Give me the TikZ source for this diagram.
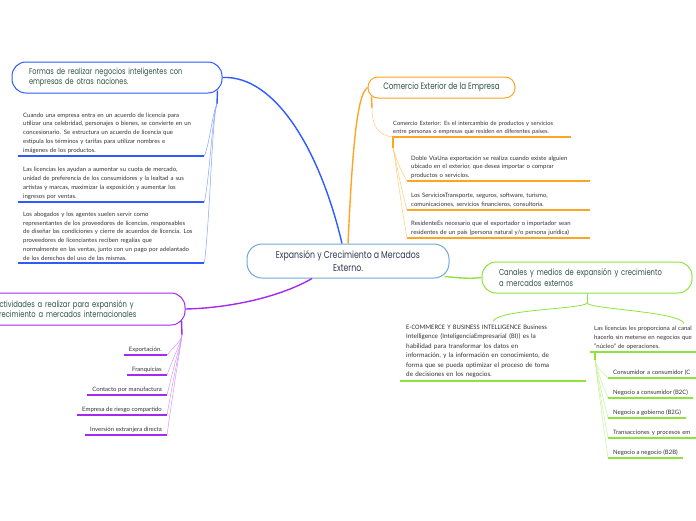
\documentclass[tikz,border=0pt]{standalone}
\usepackage{fontspec}
\setmainfont{Lato}
\newfontfamily\ttlfont[FakeStretch=0.78]{Poppins}
\newfontfamily\calfont{Carlito}
\usetikzlibrary{positioning}

\definecolor{ramaazul}{HTML}{2D5BFF}
\definecolor{ramitaazul}{HTML}{86A2FF}
\definecolor{ramanaranja}{HTML}{FFA526}
\definecolor{ramitanaranja}{HTML}{FFCB7A}
\definecolor{ramaverde}{HTML}{8EE33C}
\definecolor{ramitaverde}{HTML}{C6F199}
\definecolor{ramamorada}{HTML}{A42AF0}
\definecolor{ramitamorada}{HTML}{D49AF7}
\definecolor{bordecentral}{HTML}{6FA8DC}
\definecolor{textotitulo}{HTML}{2F5547}
\definecolor{textocentral}{HTML}{2E3B4E}
\definecolor{textohoja}{HTML}{333333}

\begin{document}
\begin{tikzpicture}[
    x=1pt, y=-1pt,
    centro/.style={
        draw=bordecentral,
        line width=1pt,
        rounded corners=15pt,
        fill=white,
        minimum width=202pt,
        minimum height=34pt,
        align=center,
        text=textocentral,
        font=\ttlfont\fontsize{10}{12.5}\selectfont
    },
    tema/.style={
        line width=1pt,
        rounded corners=14pt,
        fill=white,
        minimum height=31pt,
        text=textotitulo,
        font=\ttlfont\fontsize{8.7}{10.5}\selectfont
    },
    hoja/.style={
        text=textohoja,
        inner xsep=4pt,
        inner ysep=2.5pt,
        font=\fontsize{6}{8.8}\selectfont
    },
    rama/.style={
        line width=1.4pt
    },
    subrayado/.style={
        line width=1.3pt
    },
    ramita/.style={
        line width=0.5pt
    }
]
\clip (0,0) rectangle (696,520);

% Central node
\node[centro] (centro) at (348,261) {Expansión y Crecimiento a Mercados\\Externo.};

% Main topics
\node[tema, draw=ramaazul, minimum width=210pt, text width=176pt, align=left, font=\ttlfont\fontsize{8.5}{10.5}\selectfont] (formas) at (117,77.5)
    {Formas de realizar negocios inteligentes con\\empresas de otras naciones.};
\node[tema, draw=ramanaranja, minimum width=147pt, minimum height=21pt, rounded corners=10pt, font=\ttlfont\fontsize{9.2}{10.5}\selectfont] (comercio) at (441.5,87.5)
    {Comercio Exterior de la Empresa};
\node[tema, draw=ramaverde, minimum width=210pt, text width=176pt, align=left] (canales) at (587,277.5)
    {Canales y medios de expansión y crecimiento\\a mercados externos};
\node[tema, draw=ramamorada, minimum width=204pt, minimum height=32pt, text width=176pt, align=left] (activ) at (83,309)
    {Actividades a realizar para expansión y\\crecimiento a mercados internacionales};

% Branches from the centre
\draw[rama, ramaazul] (formas.east) .. controls (275,75) and (320,150) .. ([xshift=-6]centro.north);
\draw[rama, ramanaranja] (centro.north) .. controls (352,160) and (356,95) .. (comercio.west);
\draw[rama, ramaverde] ([shift={(-5,-2)}]centro.south east) .. controls (460,278) and (470,279) .. (canales.west);
\draw[rama, ramamorada] ([xshift=-36]centro.south) .. controls (280,297) and (230,308) .. (activ.east);

% Blue leaves
\node[hoja, anchor=south west, text width=176pt, align=left, inner xsep=5pt] (lic1) at (18,156)
    {Cuando una empresa entra en un acuerdo de licencia para\\utilizar una celebridad, personajes o bienes, se convierte en un\\concesionario. Se estructura un acuerdo de licencia que\\estipula los términos y tarifas para utilizar nombres e\\imágenes de los productos.};
\node[hoja, anchor=south west, text width=176pt, align=left, inner xsep=5pt] (lic2) at (18,202)
    {Las licencias les ayudan a aumentar su cuota de mercado,\\unidad de preferencia de los consumidores y la lealtad a sus\\artistas y marcas, maximizar la exposición y aumentar los\\ingresos por ventas.};
\node[hoja, anchor=south west, text width=176pt, align=left, inner xsep=5pt] (lic3) at (18,263)
    {Los abogados y los agentes suelen servir como\\representantes de los proveedores de licencias, responsables\\de diseñar las condiciones y cierre de acuerdos de licencia. Los\\proveedores de licenciantes reciben regalías que\\normalmente en las ventas, junto con un pago por adelantado\\de los derechos del uso de las mismas.};

\coordinate (nudoazul) at (217,104);
\draw[rama, ramaazul] ([shift={(-5,-3)}]formas.south east) -- (nudoazul);
\draw[ramita, ramitaazul] (nudoazul) .. controls +(-5,10) and +(6,-16) .. (lic1.south east);
\draw[ramita, ramitaazul] (nudoazul) .. controls +(-5,12) and +(6,-30) .. (lic2.south east);
\draw[ramita, ramitaazul] (nudoazul) .. controls +(-5,14) and +(6,-50) .. (lic3.south east);
\draw[subrayado, ramaazul] (lic1.south west) -- (lic1.south east);
\draw[subrayado, ramaazul] (lic2.south west) -- (lic2.south east);
\draw[subrayado, ramaazul] (lic3.south west) -- (lic3.south east);

% Orange leaves
\node[hoja, anchor=south west, text width=177pt, align=left, inner xsep=1pt, font=\fontsize{5.8}{8}\selectfont] (comext) at (392,137)
    {Comercio Exterior: Es el intercambio de productos y servicios\\entre personas o empresas que residen en diferentes países.};
\node[hoja, anchor=south west, text width=175pt, align=left, font=\fontsize{6}{8.5}\selectfont] (doble) at (407,181)
    {Doble VíaUna exportación se realiza cuando existe alguien\\ubicado en el exterior, que desea importar o comprar\\productos o servicios.};
\node[hoja, anchor=south west, text width=175pt, align=left, font=\fontsize{6}{8.5}\selectfont] (serv) at (407,210)
    {Los ServiciosTransporte, seguros, software, turismo,\\comunicaciones, servicios financieros, consultoría.};
\node[hoja, anchor=south west, text width=175pt, align=left, font=\fontsize{6}{8.5}\selectfont] (resid) at (407,238)
    {ResidenteEs necesario que el exportador o importador sean\\residentes de un país (persona natural y/o persona jurídica)};

\coordinate (nudonaranja) at (372,108);
\coordinate (nudonaranja2) at (393,148);
\draw[rama, ramanaranja] ([shift={(4,-2)}]comercio.south west) -- (nudonaranja);
\draw[ramita, ramitanaranja] (nudonaranja) .. controls +(0,18) and +(-14,-2) .. (comext.south west);
\draw[rama, ramanaranja] ([xshift=1]comext.south west) -- (nudonaranja2);
\draw[ramita, ramitanaranja] (nudonaranja2) .. controls +(3,10) and +(-8,-14) .. (doble.south west);
\draw[ramita, ramitanaranja] (nudonaranja2) .. controls +(3,12) and +(-8,-30) .. (serv.south west);
\draw[ramita, ramitanaranja] (nudonaranja2) .. controls +(3,14) and +(-8,-45) .. (resid.south west);
\draw[subrayado, ramanaranja] (comext.south west) -- (comext.south east);
\draw[subrayado, ramanaranja] (doble.south west) -- (doble.south east);
\draw[subrayado, ramanaranja] (serv.south west) -- (serv.south east);
\draw[subrayado, ramanaranja] (resid.south west) -- (resid.south east);

% Green leaves
\node[hoja, anchor=south west, text width=174pt, align=left, inner xsep=6pt, inner ysep=3pt, font=\calfont\fontsize{6.8}{9.5}\selectfont] (ecom) at (400,381)
    {E-COMMERCE Y BUSINESS INTELLIGENCE Business\\Intelligence (InteligenciaEmpresarial (BI)) es la\\habilidad para transformar los datos en\\información, y la información en conocimiento, de\\forma que se pueda optimizar el proceso de toma\\de decisiones en los negocios.};
\node[hoja, anchor=south west, text width=180pt, align=left] (licen) at (590,352)
    {Las licencias les proporciona al canal\\hacerlo sin meterse en negocios que\\"núcleo" de operaciones.};
\node[hoja, anchor=south west, inner xsep=5pt, text width=95pt, align=left] (c2c) at (608,378) {Consumidor a consumidor (C};
\node[hoja, anchor=south west, inner xsep=5pt] (b2c) at (608,398) {Negocio a consumidor (B2C)};
\node[hoja, anchor=south west, inner xsep=5pt] (b2g) at (608,418) {Negocio a gobierno (B2G)};
\node[hoja, anchor=south west, inner xsep=5pt, text width=95pt, align=left] (trans) at (608,438) {Transacciones y procesos em};
\node[hoja, anchor=south west, inner xsep=5pt] (b2b) at (608,458) {Negocio a negocio (B2B)};

\coordinate (horquilla) at (587,303);
\coordinate (nudoverde) at (595,360);
\draw[ramita, ramaverde, line width=0.8pt] (canales.south) -- (horquilla);
\draw[ramita, ramaverde, line width=0.8pt] (horquilla) .. controls +(-2,6) and +(4,-12) .. (ecom.north);
\draw[ramita, ramaverde, line width=0.8pt] (horquilla) .. controls +(2,6) and +(-4,-12) .. (licen.north);
\draw[rama, ramaverde] ([xshift=5]licen.south west) -- (nudoverde);
\draw[ramita, ramitaverde] (nudoverde) .. controls +(2,8) and +(-8,-8) .. (c2c.south west);
\draw[ramita, ramitaverde] (nudoverde) .. controls +(2,10) and +(-8,-20) .. (b2c.south west);
\draw[ramita, ramitaverde] (nudoverde) .. controls +(2,12) and +(-8,-32) .. (b2g.south west);
\draw[ramita, ramitaverde] (nudoverde) .. controls +(2,14) and +(-8,-44) .. (trans.south west);
\draw[ramita, ramitaverde] (nudoverde) .. controls +(2,16) and +(-8,-56) .. (b2b.south west);
\draw[subrayado, ramaverde] (ecom.south west) -- (ecom.south east);
\draw[subrayado, ramaverde] (licen.south west) -- (licen.south east);
\draw[subrayado, ramaverde] (c2c.south west) -- (c2c.south east);
\draw[subrayado, ramaverde] (b2c.south west) -- (b2c.south east);
\draw[subrayado, ramaverde] (b2g.south west) -- (b2g.south east);
\draw[subrayado, ramaverde] (trans.south west) -- (trans.south east);
\draw[subrayado, ramaverde] (b2b.south west) -- (b2b.south east);

% Purple leaves
\node[hoja, anchor=south east, inner xsep=5pt] (expo) at (167,355) {Exportación.};
\node[hoja, anchor=south east, inner xsep=5pt] (fran) at (167,375) {Franquicias};
\node[hoja, anchor=south east, inner xsep=5pt] (manuf) at (167,395) {Contacto por manufactura};
\node[hoja, anchor=south east, inner xsep=5pt] (riesgo) at (167,415) {Empresa de riesgo compartido};
\node[hoja, anchor=south east, inner xsep=5pt] (inver) at (167,435) {Inversión extranjera directa};

\coordinate (nudomorado) at (182,335);
\draw[rama, ramamorada] ([shift={(-4,-5)}]activ.south east) -- (nudomorado);
\draw[ramita, ramitamorada] (nudomorado) .. controls +(-2,8) and +(8,-10) .. (expo.south east);
\draw[ramita, ramitamorada] (nudomorado) .. controls +(-2,10) and +(8,-22) .. (fran.south east);
\draw[ramita, ramitamorada] (nudomorado) .. controls +(-2,12) and +(8,-34) .. (manuf.south east);
\draw[ramita, ramitamorada] (nudomorado) .. controls +(-2,14) and +(8,-46) .. (riesgo.south east);
\draw[ramita, ramitamorada] (nudomorado) .. controls +(-2,16) and +(8,-58) .. (inver.south east);
\draw[subrayado, ramamorada] (expo.south west) -- (expo.south east);
\draw[subrayado, ramamorada] (fran.south west) -- (fran.south east);
\draw[subrayado, ramamorada] (manuf.south west) -- (manuf.south east);
\draw[subrayado, ramamorada] (riesgo.south west) -- (riesgo.south east);
\draw[subrayado, ramamorada] (inver.south west) -- (inver.south east);

\end{tikzpicture}
\end{document}
